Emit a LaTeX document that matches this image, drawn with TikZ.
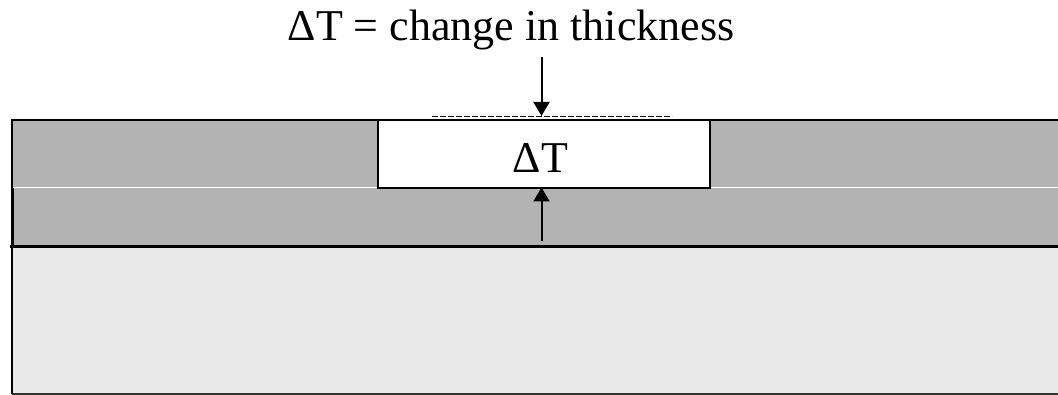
\documentclass[tikz,border=0pt]{standalone}
\usepackage{fontspec}
\setmainfont{Liberation Serif}
\usetikzlibrary{arrows.meta}
\definecolor{film}{HTML}{B3B3B3}
\definecolor{substrate}{HTML}{E9E9E9}
\tikzset{
  edge/.style={draw=black, line width=1.6pt},
  gauge/.style={line width=2pt, -{Triangle[length=14pt,width=16pt]}},
  label/.style={inner sep=0pt, font=\fontsize{44}{52}\selectfont}
}
\begin{document}
\begin{tikzpicture}[x=1pt,y=-1pt]
\useasboundingbox (0,0) rectangle (1058,395);
% substrate
\fill[substrate] (12,247) rectangle (1058,394);
\draw[line width=1.5pt, black!80] (12,394) -- (1058,394);
% film: two grey layers split by a thin white seam
\fill[film] (12,120) rectangle (1058,247);
\draw[white, line width=1.6pt] (12,187.5) -- (1058,187.5);
\draw[edge] (1058,120) -- (12,120) -- (12,394);
\draw[line width=2.5pt] (10,246.5) -- (1058,246.5);
\draw[line width=3pt] (12,188) -- (12,246.5);
% etched window
\node[edge, fill=white, minimum width=332pt, minimum height=68pt, inner sep=0pt, anchor=north west] (win) at (377.3,119.3) {};
\node[label, anchor=base] (dt) at (540.5,172.5) {ΔT};
% original surface level
\coordinate (s1) at (432,116.5);
\coordinate (s2) at (672,116.5);
\draw[line width=1pt, dash pattern=on 6pt off 2pt] (s1) -- (s2);
% caption and thickness arrows
\node[label, anchor=base] (cap) at (511,40.5) {ΔT = change in thickness};
\coordinate (top) at (541.5,57.5);
\coordinate (tipA) at (541.5,116);
\coordinate (tail) at (541.5,241);
\coordinate (tipB) at (541.5,187.5);
\draw[gauge] (top) -- (tipA);
\draw[gauge] (tail) -- (tipB);
\end{tikzpicture}
\end{document}
